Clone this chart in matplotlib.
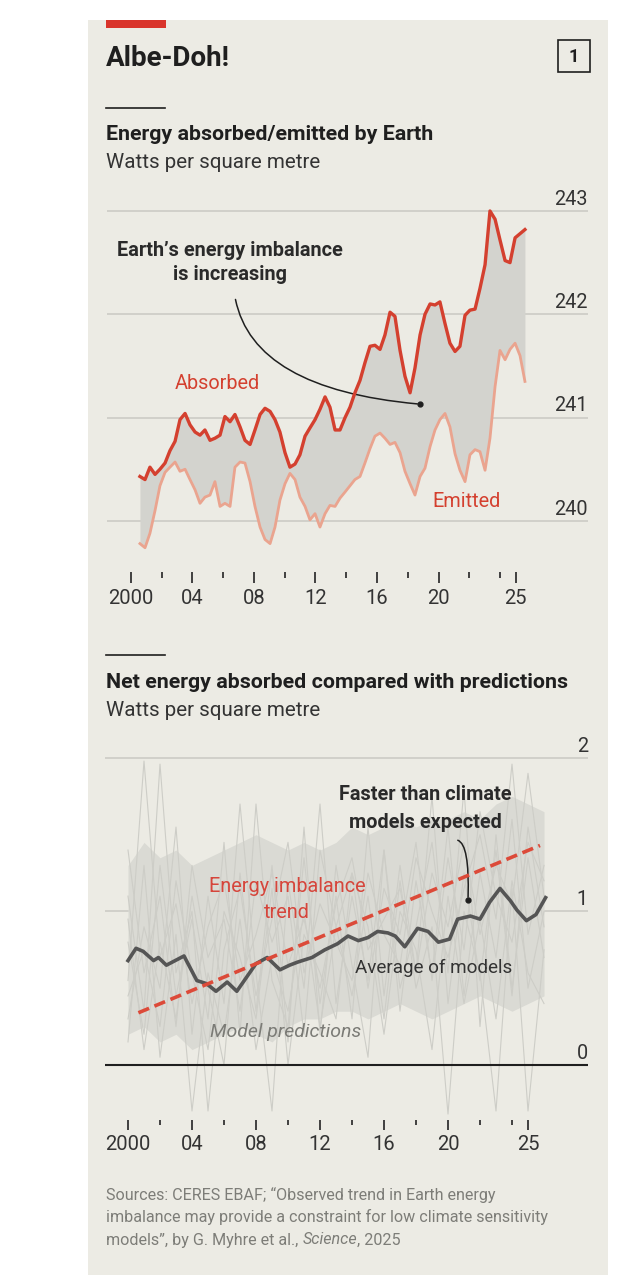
import matplotlib
matplotlib.use("Agg")
import matplotlib.pyplot as plt
from matplotlib.patches import Rectangle

plt.rcParams['font.family'] = ['Roboto', 'DejaVu Sans']

# ---- data: top chart (CERES, W/m2) ----
years_top = [2000.60, 2000.93, 2001.25, 2001.58, 2001.90, 2002.23, 2002.55, 2002.88, 2003.20, 2003.53,
             2003.85, 2004.18, 2004.50, 2004.82, 2005.15, 2005.47, 2005.80, 2006.12, 2006.45, 2006.77,
             2007.10, 2007.42, 2007.75, 2008.07, 2008.40, 2008.72, 2009.05, 2009.37, 2009.69, 2010.02,
             2010.34, 2010.67, 2010.99, 2011.32, 2011.64, 2011.97, 2012.29, 2012.62, 2012.94, 2013.27,
             2013.59, 2013.92, 2014.24, 2014.56, 2014.89, 2015.21, 2015.54, 2015.86, 2016.19, 2016.51,
             2016.84, 2017.16, 2017.49, 2017.81, 2018.14, 2018.46, 2018.79, 2019.11, 2019.44, 2019.76,
             2020.08, 2020.41, 2020.73, 2021.06, 2021.38, 2021.71, 2022.03, 2022.36, 2022.68, 2023.01,
             2023.33, 2023.66, 2023.98, 2024.31, 2024.63, 2024.96, 2025.28, 2025.60]
absorbed = [240.43, 240.40, 240.52, 240.45, 240.50, 240.56, 240.68, 240.77, 240.98, 241.04,
            240.93, 240.86, 240.83, 240.88, 240.78, 240.80, 240.83, 241.01, 240.96, 241.03,
            240.91, 240.78, 240.74, 240.88, 241.03, 241.09, 241.06, 240.98, 240.86, 240.66,
            240.52, 240.55, 240.64, 240.82, 240.90, 240.98, 241.08, 241.20, 241.10, 240.88,
            240.88, 241.00, 241.10, 241.24, 241.36, 241.53, 241.69, 241.70, 241.66, 241.80,
            242.02, 241.98, 241.65, 241.40, 241.24, 241.48, 241.80, 242.00, 242.10, 242.09,
            242.12, 241.91, 241.72, 241.64, 241.69, 241.99, 242.04, 242.05, 242.25, 242.48,
            243.00, 242.92, 242.72, 242.52, 242.50, 242.74, 242.78, 242.82]
emitted = [239.78, 239.74, 239.88, 240.10, 240.34, 240.47, 240.52, 240.57, 240.48, 240.50,
           240.40, 240.30, 240.17, 240.23, 240.25, 240.38, 240.14, 240.17, 240.14, 240.52,
           240.57, 240.56, 240.38, 240.14, 239.94, 239.82, 239.78, 239.94, 240.20, 240.36,
           240.46, 240.40, 240.23, 240.14, 240.01, 240.07, 239.94, 240.07, 240.15, 240.14,
           240.22, 240.28, 240.34, 240.40, 240.43, 240.56, 240.70, 240.82, 240.85, 240.80,
           240.74, 240.76, 240.66, 240.48, 240.36, 240.25, 240.43, 240.51, 240.72, 240.88,
           240.98, 241.04, 240.91, 240.65, 240.49, 240.38, 240.64, 240.69, 240.67, 240.49,
           240.80, 241.30, 241.65, 241.56, 241.66, 241.72, 241.60, 241.35]
top_grid = [240, 241, 242, 243]

# ---- data: bottom chart ----
avg_years = [2000.0, 2000.5, 2000.95, 2001.6, 2001.9, 2002.4, 2003.5, 2004.3, 2004.9, 2005.5,
             2006.2, 2006.8, 2007.4, 2008.0, 2008.7, 2009.5, 2010.1, 2010.6, 2011.5, 2012.3,
             2013.1, 2013.75, 2014.4, 2015.0, 2015.6, 2016.25, 2016.7, 2017.3, 2018.1, 2018.75,
             2019.4, 2020.1, 2020.6, 2021.4, 2022.0, 2022.6, 2023.25, 2023.9, 2024.3, 2024.9,
             2025.5, 2026.1]
avg_vals = [0.68, 0.76, 0.74, 0.68, 0.70, 0.65, 0.71, 0.55, 0.53, 0.48,
            0.54, 0.48, 0.57, 0.66, 0.70, 0.62, 0.65, 0.67, 0.70, 0.75,
            0.79, 0.84, 0.81, 0.83, 0.87, 0.86, 0.84, 0.77, 0.89, 0.87,
            0.80, 0.82, 0.95, 0.97, 0.95, 1.06, 1.15, 1.07, 1.01, 0.94,
            0.98, 1.09]
trend_years = [2000.65, 2025.75]
trend_vals = [0.34, 1.43]

model_years = list(range(2000, 2027))
band_hi = [1.30, 1.45, 1.35, 1.40, 1.30, 1.35, 1.40, 1.45, 1.50, 1.45, 1.40, 1.45, 1.40, 1.45,
           1.55, 1.50, 1.55, 1.60, 1.55, 1.60, 1.60, 1.65, 1.60, 1.70, 1.75, 1.70, 1.65]
band_lo = [0.20, 0.25, 0.15, 0.20, 0.10, 0.15, 0.20, 0.25, 0.20, 0.15, 0.25, 0.30, 0.30, 0.35,
           0.35, 0.30, 0.35, 0.40, 0.35, 0.30, 0.35, 0.40, 0.45, 0.40, 0.35, 0.40, 0.45]
models = [
    [0.55, 1.98, 0.70, 1.05, 0.40, 0.90, 1.20, 0.55, 0.85, 1.25, 0.65, 0.95, 0.50, 1.05, 1.35, 0.75, 0.95, 1.15, 0.60, 1.25, 0.90, 1.45, 0.85, 1.30, 1.05, 1.90, 1.10],
    [1.10, 0.35, 1.96, 0.60, 1.00, -0.30, 0.75, 1.15, 0.45, 0.95, 1.45, 0.60, 1.05, 0.80, 0.55, 1.25, 0.85, 0.65, 1.35, 1.00, 0.70, 1.15, 1.50, 0.95, 1.96, 0.85, 1.30],
    [0.30, 0.90, 0.50, 1.55, 0.20, 1.10, 0.40, 1.70, 0.60, -0.30, 1.20, 0.50, 1.70, 0.40, 1.10, 0.55, 1.40, 0.35, 1.20, 0.60, 1.55, 0.45, 1.25, 0.70, 1.60, 0.50, 1.00],
    [0.80, 0.20, 1.30, 0.45, 0.95, 0.30, 1.45, 0.20, 1.70, 0.55, 0.25, 1.35, 0.40, 1.10, 0.30, 1.55, 0.45, 1.30, 0.60, 1.75, 0.40, 1.25, 0.55, 1.40, 0.45, 1.55, 0.90],
    [0.15, 1.30, 0.05, 0.85, -0.30, 0.60, 0.20, 0.95, 0.10, 0.70, 0.35, 1.00, 0.25, 0.90, 0.45, 1.10, 0.30, 1.20, 0.50, 0.90, -0.32, 1.00, 0.60, -0.30, 1.15, -0.30, 0.75],
    [1.40, 0.60, 1.10, 0.25, 1.30, 0.70, 0.95, 0.35, 1.20, 0.80, 1.10, 0.20, 1.40, 0.90, 1.25, 0.50, 1.15, 0.85, 1.45, 0.55, 1.35, 0.75, 1.65, 1.10, 0.80, 1.45, 1.20],
    [0.45, 0.75, 0.25, 1.20, 0.60, 0.10, 1.00, 0.70, 0.30, 1.15, 0.00, 0.85, 0.60, 0.30, 1.25, 0.90, 0.20, 1.00, 0.75, 0.10, 1.10, 0.40, 0.95, 0.30, 1.20, 0.60, 0.40],
    [0.95, 0.10, 0.80, 0.30, 1.10, 0.50, 0.00, 1.25, 0.35, 1.30, 0.15, 1.55, 0.20, 1.30, 0.65, 0.05, 1.40, 0.50, 0.90, 1.45, 0.60, 1.80, 0.25, 1.50, 0.50, 1.35, 0.70],
]
bottom_grid = [1, 2]

major_ticks = [2000, 2004, 2008, 2012, 2016, 2020, 2025]
major_labels = ['2000', '04', '08', '12', '16', '20', '25']
minor_ticks = [2002, 2006, 2010, 2014, 2018, 2022, 2024]

BG = '#ecebe4'
RED = '#d4402f'
PINK = '#eaa48f'
GRID = '#c9c9c3'
DARK = '#1f1f1f'
FS = 14.3     # regular labels
FSB = 15.4    # bold headings

W, H = 625, 1285
fig = plt.figure(figsize=(W / 100, H / 100), dpi=100, facecolor='white')


def fx(x):
    return x / W


def fy(y):
    return 1 - y / H


def add_ax(x0, y0, x1, y1):
    a = fig.add_axes([x0 / W, 1 - y1 / H, (x1 - x0) / W, (y1 - y0) / H])
    a.set_facecolor('none')
    a.axis('off')
    a.set_zorder(2)
    return a


def ftext(x, y, s, **kw):
    kw.setdefault('zorder', 5)
    return fig.text(fx(x), fy(y), s, **kw)


# panel
fig.patches.append(Rectangle((fx(88), fy(1275)), (608 - 88) / W, (1275 - 20) / H,
                             transform=fig.transFigure, facecolor=BG, edgecolor='none', zorder=-10))
fig.patches.append(Rectangle((fx(106), fy(28)), 60 / W, 8 / H,
                             transform=fig.transFigure, facecolor='#d9342b', edgecolor='none'))
fig.patches.append(Rectangle((fx(558), fy(72)), 32 / W, 32 / H, transform=fig.transFigure,
                             facecolor='none', edgecolor=DARK, lw=1.2))
ftext(574, 57, '1', ha='center', va='center', fontsize=13, color=DARK, fontweight='bold')
ftext(106, 59, 'Albe-Doh!', ha='left', va='center', fontsize=20, fontweight='bold', color=DARK)

for yy in (108, 655):
    fig.lines.append(plt.Line2D([fx(106), fx(165)], [fy(yy), fy(yy)], transform=fig.transFigure,
                                color=DARK, lw=1.2))

ftext(106, 134, 'Energy absorbed/emitted by Earth', ha='left', va='center', fontsize=FSB,
      fontweight='bold', color=DARK)
ftext(106, 163, 'Watts per square metre', ha='left', va='center', fontsize=14.8, color='#333333')
ftext(106, 682, 'Net energy absorbed compared with predictions', ha='left', va='center',
      fontsize=FSB, fontweight='bold', color=DARK)
ftext(106, 710, 'Watts per square metre', ha='left', va='center', fontsize=14.8, color='#333333')

# ---- top chart ----
ax = add_ax(107, 190, 588, 615)
x0, x1 = 1998.461, 2029.695
ax.set_xlim(x0, x1)
ax.set_ylim(239.089, 243.203)
ax.hlines(top_grid, x0, x1, color=GRID, lw=1.1, zorder=1)
for v in top_grid:
    ax.text(x1, v + 0.06, str(v), ha='right', va='baseline', fontsize=FS, color='#333333')
ax.fill_between(years_top, emitted, absorbed, color='#d3d3ce', lw=0, zorder=2)
ax.plot(years_top, emitted, color=PINK, lw=2.0, zorder=3, solid_joinstyle='round')
ax.plot(years_top, absorbed, color=RED, lw=2.4, zorder=4, solid_joinstyle='round')
ax.vlines(major_ticks, 239.399, 239.505, color='#333333', lw=1.3)
ax.vlines(minor_ticks, 239.447, 239.505, color='#333333', lw=1.3)
for t, l in zip(major_ticks, major_labels):
    ax.text(t, 239.25, l, ha='center', va='center', fontsize=14.5, color='#333333')
ax.annotate('', xy=(2018.79, 241.13), xytext=(2006.77, 242.17),
            arrowprops=dict(arrowstyle='-', color=DARK, lw=1.1,
                            connectionstyle='angle3,angleA=-80,angleB=-5'))
ax.plot([2018.79], [241.13], 'o', color=DARK, ms=3.5, zorder=6)

ftext(230, 250, 'Earth\u2019s energy imbalance', ha='center', va='center', fontsize=FS,
      fontweight='bold', color='#2a2a2a')
ftext(230, 275, 'is increasing', ha='center', va='center', fontsize=FS,
      fontweight='bold', color='#2a2a2a')
ftext(175, 383, 'Absorbed', ha='left', va='center', fontsize=FS, color=RED)
ftext(432, 502, 'Emitted', ha='left', va='center', fontsize=FS, color=RED)

# ---- bottom chart ----
bx = add_ax(105, 740, 588, 1150)
b0, b1 = 1998.5625, 2028.75
bx.set_xlim(b0, b1)
bx.set_ylim(-0.554, 2.117)
bx.hlines(bottom_grid, b0, b1, color=GRID, lw=1.1, zorder=1)
bx.fill_between(model_years, band_lo, band_hi, color='#dadad4', lw=0, zorder=2)
for m in models:
    bx.plot(model_years, m, color='#cdcdc7', lw=0.8, zorder=2)
bx.hlines([0], b0, b1, color=DARK, lw=1.5, zorder=3)
for v in [0, 1, 2]:
    bx.text(b1, v + 0.04, str(v), ha='right', va='baseline', fontsize=FS, color='#333333')
bx.plot(avg_years, avg_vals, color='#555555', lw=2.6, zorder=4, solid_joinstyle='round')
bx.plot(trend_years, trend_vals, color='#dc4a39', lw=2.6, ls=(0, (3.2, 1.6)), zorder=5)
bx.vlines(major_ticks, -0.423, -0.358, color='#333333', lw=1.3)
bx.vlines(minor_ticks, -0.391, -0.358, color='#333333', lw=1.3)
for t, l in zip(major_ticks, major_labels):
    bx.text(t, -0.521, l, ha='center', va='center', fontsize=14.5, color='#333333')
bx.annotate('', xy=(2021.25, 1.075), xytext=(2020.44, 1.466),
            arrowprops=dict(arrowstyle='-', color=DARK, lw=1.1,
                            connectionstyle='angle3,angleA=5,angleB=88'))
bx.plot([2021.25], [1.075], 'o', color=DARK, ms=3.5, zorder=6)

ftext(425, 795, 'Faster than climate', ha='center', va='center', fontsize=FS,
      fontweight='bold', color='#2a2a2a')
ftext(425, 822, 'models expected', ha='center', va='center', fontsize=FS,
      fontweight='bold', color='#2a2a2a')
ftext(287, 887, 'Energy imbalance', ha='center', va='center', fontsize=FS, color='#d6453b')
ftext(287, 912, 'trend', ha='center', va='center', fontsize=FS, color='#d6453b')
ftext(355, 968, 'Average of models', ha='left', va='center', fontsize=13.6, color='#333333')
ftext(210, 1032, 'Model predictions', ha='left', va='center', fontsize=14, color='#7b7b76',
      style='italic')

# ---- sources ----
SRC = '#7d7d78'
ftext(106, 1195, 'Sources: CERES EBAF; \u201cObserved trend in Earth energy', ha='left',
      va='center', fontsize=11.6, color=SRC)
ftext(106, 1217, 'imbalance may provide a constraint for low climate sensitivity', ha='left',
      va='center', fontsize=11.6, color=SRC)
r = fig.canvas.get_renderer()
t1 = ftext(106, 1240, 'models\u201d, by G. Myhre et al., ', ha='left', va='center', fontsize=11.6,
           color=SRC)
e1 = t1.get_window_extent(r)
t2 = fig.text(e1.x1 / W, fy(1240), 'Science', ha='left', va='center', fontsize=11.6, color=SRC,
              style='italic')
e2 = t2.get_window_extent(r)
fig.text(e2.x1 / W, fy(1240), ', 2025', ha='left', va='center', fontsize=11.6, color=SRC)

fig.savefig('out.png', dpi=100, facecolor='white')
